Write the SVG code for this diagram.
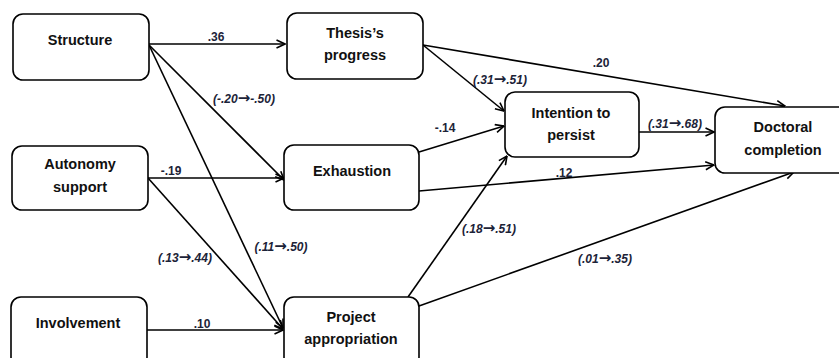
<svg xmlns="http://www.w3.org/2000/svg" width="839" height="358" viewBox="0 0 839 358">
  <style>
    .box { fill: #ffffff; stroke: #000000; stroke-width: 1.6; }
    .lbl { font-family: "Liberation Sans", Arial, sans-serif; font-weight: bold; font-size: 14.5px; fill: #111111; text-anchor: middle; }
    .edge { fill: none; stroke: #000000; stroke-width: 1.6; marker-end: url(#arr); }
    .coef { font-family: "Liberation Sans", Arial, sans-serif; font-weight: bold; font-size: 12px; fill: #1c2338; text-anchor: middle; }
    .ci { font-style: italic; }
    .ar { font-family: "DejaVu Sans", sans-serif; font-style: normal; font-weight: bold; font-size: 15px; }
  </style>
  <defs>
    <marker id="arr" viewBox="0 0 10 10" refX="9.5" refY="5" markerWidth="10" markerHeight="10" orient="auto" markerUnits="userSpaceOnUse">
      <path d="M1,1 L9.5,5 L1,9" fill="none" stroke="#000000" stroke-width="1.6"/>
    </marker>
  </defs>
  <rect width="839" height="358" fill="#ffffff"/>

  <!-- connectors -->
  <g id="connectors">
    <line class="edge" x1="149" y1="44" x2="285" y2="44"/>
    <line class="edge" x1="149" y1="45" x2="284" y2="180"/>
    <line class="edge" x1="149" y1="45" x2="283" y2="328"/>
    <line class="edge" x1="148" y1="178" x2="284" y2="178"/>
    <line class="edge" x1="148" y1="178" x2="283" y2="329"/>
    <line class="edge" x1="147" y1="330" x2="283" y2="330"/>
    <line class="edge" x1="423" y1="45" x2="504" y2="111"/>
    <line class="edge" x1="423" y1="45" x2="785" y2="106"/>
    <line class="edge" x1="419" y1="152" x2="504" y2="126"/>
    <line class="edge" x1="419" y1="191" x2="714" y2="165"/>
    <line class="edge" x1="408" y1="297" x2="507" y2="156"/>
    <line class="edge" x1="419" y1="306" x2="794" y2="172"/>
    <line class="edge" x1="639" y1="132" x2="714" y2="132"/>
  </g>

  <!-- path coefficients -->
  <g id="coefficients">
    <text class="coef" x="216" y="41">.36</text>
    <text class="coef ci" x="244" y="103">(-.20<tspan class="ar">→</tspan>-.50)</text>
    <text class="coef" x="171" y="175">-.19</text>
    <text class="coef ci" x="281" y="251">(.11<tspan class="ar">→</tspan>.50)</text>
    <text class="coef ci" x="185" y="262">(.13<tspan class="ar">→</tspan>.44)</text>
    <text class="coef" x="202" y="328">.10</text>
    <text class="coef ci" x="500" y="84">(.31<tspan class="ar">→</tspan>.51)</text>
    <text class="coef" x="601" y="67">.20</text>
    <text class="coef" x="445" y="132">-.14</text>
    <text class="coef" x="564" y="177">.12</text>
    <text class="coef ci" x="675" y="128">(.31<tspan class="ar">→</tspan>.68)</text>
    <text class="coef ci" x="489" y="233">(.18<tspan class="ar">→</tspan>.51)</text>
    <text class="coef ci" x="605" y="263">(.01<tspan class="ar">→</tspan>.35)</text>
  </g>

  <!-- nodes -->
  <g id="structure">
    <rect class="box" x="13" y="14" width="136" height="66" rx="10"/>
    <text class="lbl" x="80" y="45">Structure</text>
  </g>
  <g id="autonomy-support">
    <rect class="box" x="12" y="146" width="136" height="64" rx="10"/>
    <text class="lbl" x="80" y="169">Autonomy</text>
    <text class="lbl" x="80" y="192">support</text>
  </g>
  <g id="involvement">
    <rect class="box" x="11" y="297" width="136" height="70" rx="10"/>
    <text class="lbl" x="78" y="328">Involvement</text>
  </g>
  <g id="thesis-progress">
    <rect class="box" x="287" y="13" width="136" height="66" rx="10"/>
    <text class="lbl" x="355" y="38">Thesis’s</text>
    <text class="lbl" x="355" y="60">progress</text>
  </g>
  <g id="exhaustion">
    <rect class="box" x="284" y="145" width="135" height="65" rx="10"/>
    <text class="lbl" x="352" y="176">Exhaustion</text>
  </g>
  <g id="project-appropriation">
    <rect class="box" x="284" y="297" width="135" height="70" rx="10"/>
    <text class="lbl" x="351" y="322">Project</text>
    <text class="lbl" x="351" y="344">appropriation</text>
  </g>
  <g id="intention-to-persist">
    <rect class="box" x="505" y="92" width="134" height="65" rx="10"/>
    <text class="lbl" x="571" y="118">Intention to</text>
    <text class="lbl" x="571" y="140">persist</text>
  </g>
  <g id="doctoral-completion">
    <rect class="box" x="715" y="107" width="136" height="66" rx="10"/>
    <text class="lbl" x="783" y="132">Doctoral</text>
    <text class="lbl" x="783" y="155">completion</text>
  </g>
</svg>
